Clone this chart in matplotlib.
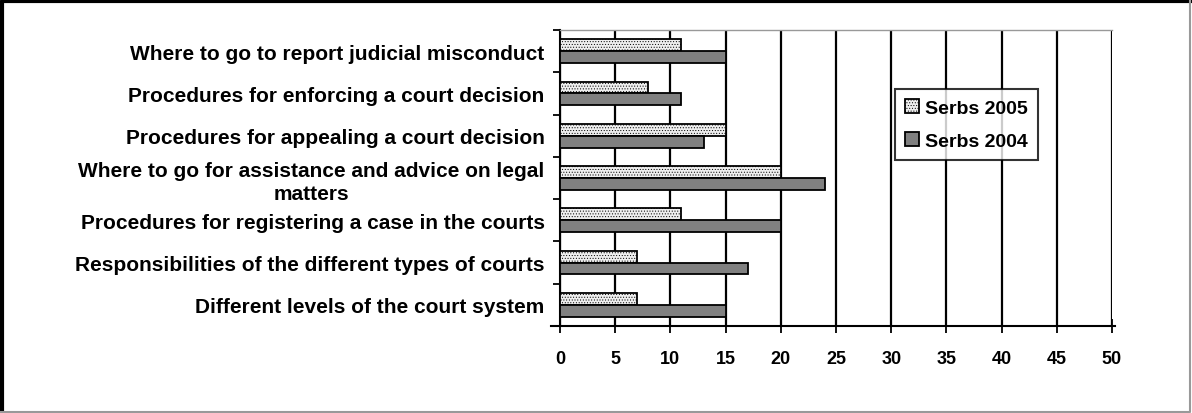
import matplotlib
matplotlib.use('Agg')
import matplotlib.pyplot as plt
import numpy as np

categories = [
    'Where to go to report judicial misconduct',
    'Procedures for enforcing a court decision',
    'Procedures for appealing a court decision',
    'Where to go for assistance and advice on legal\nmatters',
    'Procedures for registering a case in the courts',
    'Responsibilities of the different types of courts',
    'Different levels of the court system',
]
serbs_2005 = [11, 8, 15, 20, 11, 7, 7]
serbs_2004 = [15, 11, 13, 24, 20, 17, 15]
x_ticks = [0, 5, 10, 15, 20, 25, 30, 35, 40, 45, 50]

plt.rcParams['font.family'] = ['Liberation Sans', 'DejaVu Sans']
plt.rcParams['font.weight'] = 'bold'
plt.rcParams['hatch.color'] = '#b4b4b4'
plt.rcParams['hatch.linewidth'] = 0.4

fig = plt.figure(figsize=(11.92, 4.14), dpi=100)
ax = fig.add_axes([560/1192, 1 - 327/414, 552/1192, 296/414])

y = np.arange(len(categories))
h = 0.28
ax.barh(y - h/2, serbs_2005, height=h, color='#eeeeee', edgecolor='black',
        linewidth=1.3, hatch='......', label='Serbs 2005', zorder=3)
ax.barh(y + h/2, serbs_2004, height=h, color='#808080', edgecolor='black',
        linewidth=1.3, label='Serbs 2004', zorder=3)

ax.set_xlim(0, 50)
ax.set_ylim(len(categories) - 0.5, -0.5)
ax.set_xticks(x_ticks)
ax.set_xticklabels([str(v) for v in x_ticks], fontsize=13, fontweight='bold')
ax.set_yticks(y)
ax.set_yticklabels(categories, fontsize=15, fontweight='bold', ha='right',
                   multialignment='center', linespacing=1.25)
ax.tick_params(axis='y', length=0, pad=11)
ax.set_yticks(np.arange(len(categories) + 1) - 0.5, minor=True)
ax.tick_params(axis='y', which='minor', length=5, width=1.3, direction='out')
ax.tick_params(axis='x', length=10, width=1.3, direction='inout', pad=12)

ax.grid(axis='x', color='black', linewidth=1.6, zorder=0)
ax.spines['right'].set_visible(False)
ax.spines['top'].set_color('#999999')
ax.spines['top'].set_linewidth(1)
ax.spines['left'].set_linewidth(1.5)
ax.spines['bottom'].set_linewidth(1.5)
ax.spines['bottom'].set_bounds(-0.8, 50.3)

leg = ax.legend(loc='upper left', bbox_to_anchor=((895 - 560)/552, (327 - 90)/296),
                frameon=True, fancybox=False, prop={'weight': 'bold', 'size': 14},
                handlelength=0.75, handleheight=0.75, handletextpad=0.3,
                borderpad=0.5, labelspacing=0.8, borderaxespad=0)
leg.get_frame().set_edgecolor('black')
leg.get_frame().set_linewidth(1.5)

# outer frame: thick black top/left, thin grey right/bottom
fig.add_artist(plt.Line2D([0.002, 0.002, 0.999], [0.0, 0.995, 0.995],
                          transform=fig.transFigure, color='black', linewidth=3))
fig.add_artist(plt.Line2D([0.998, 0.998, 0.0], [0.995, 0.002, 0.002],
                          transform=fig.transFigure, color='#999999', linewidth=1.5))

fig.savefig('out.png', dpi=100)
